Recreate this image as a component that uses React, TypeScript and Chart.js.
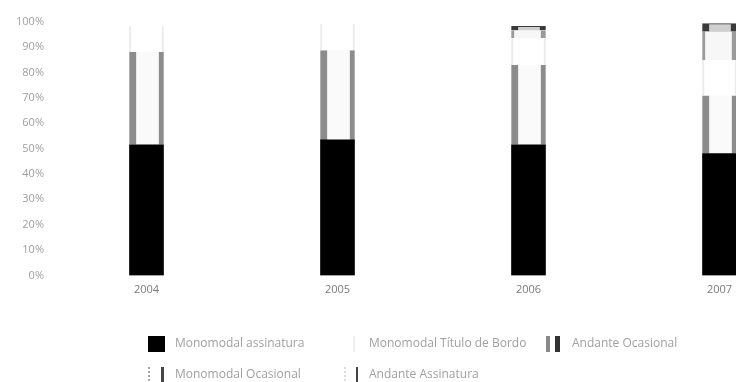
import React, { useEffect, useRef } from 'react';
import { Chart, registerables } from 'chart.js';

Chart.register(...registerables);

// ---- data ----
const categories = ['2004', '2005', '2006', '2007'];
const monomodalAssinatura = [51.5, 53.4, 51.5, 48.0];
const andanteOcasional = [36.5, 35.3, 31.4, 22.9];
const monomodalTituloBordo = [10.4, 10.5, 10.5, 14.0];
const monomodalOcasional = [0, 0, 3.1, 11.2];
const andanteAssinatura = [0, 0, 1.6, 3.1];
const yTickValues = [0, 10, 20, 30, 40, 50, 60, 70, 80, 90, 100];
const seriesLabels = [
  'Monomodal assinatura',
  'Andante Ocasional',
  'Monomodal Título de Bordo',
  'Monomodal Ocasional',
  'Andante Assinatura',
];
// dataset indices in the order the legend shows them
const legendOrder = [0, 2, 1, 3, 4];

const FONT = '"Open Sans", "Noto Sans", sans-serif';

type IconKind = 'solid' | 'double' | 'faint' | 'dashed' | 'line';
const iconKinds: IconKind[] = ['solid', 'double', 'faint', 'dashed', 'line'];

function drawIcon(ctx: CanvasRenderingContext2D, kind: IconKind, x: number, yc: number) {
  const top = yc - 8;
  const h = 16;
  ctx.save();
  if (kind === 'solid') {
    ctx.fillStyle = '#000';
    ctx.fillRect(x, top, 17, h);
  } else if (kind === 'double') {
    ctx.fillStyle = '#8a8a8a';
    ctx.fillRect(x + 1, top, 4, h);
    ctx.fillStyle = '#333';
    ctx.fillRect(x + 10, top, 5, h);
  } else if (kind === 'faint') {
    ctx.fillStyle = '#eeeeee';
    ctx.fillRect(x + 11, top, 2, h);
  } else if (kind === 'dashed') {
    ctx.fillStyle = '#a8a8a8';
    for (let yy = top; yy < top + h; yy += 4) ctx.fillRect(x, yy, 2, 2);
    ctx.fillStyle = '#444';
    ctx.fillRect(x + 13, top, 3, h);
  } else {
    ctx.fillStyle = '#dddddd';
    for (let yy = top; yy < top + h; yy += 4) ctx.fillRect(x + 2, yy, 2, 2);
    ctx.fillStyle = '#444';
    ctx.fillRect(x + 14, top, 2, h);
  }
  ctx.restore();
}

const gridLegend = {
  id: 'gridLegend',
  afterDraw(chart: any) {
    const ctx: CanvasRenderingContext2D = chart.ctx;
    const colX = [140, 334, 537];
    const rowY = [336, 367];
    ctx.save();
    ctx.font = `12px ${FONT}`;
    ctx.textBaseline = 'middle';
    ctx.textAlign = 'left';
    legendOrder.forEach((dsIndex, k) => {
      const x = colX[k % 3];
      const y = rowY[Math.floor(k / 3)];
      drawIcon(ctx, iconKinds[dsIndex], x, y);
      ctx.fillStyle = '#a0a0a0';
      ctx.fillText(chart.data.datasets[dsIndex].label, x + 27, y);
    });
    ctx.restore();
  },
};

export default function App() {
  const ref = useRef<HTMLCanvasElement | null>(null);

  useEffect(() => {
    document.body.style.overflow = 'hidden';
    document.body.style.marginRight = '0px';
    const canvas = ref.current;
    if (!canvas) return;
    const chart = new Chart(canvas, {
      type: 'bar',
      data: {
        labels: categories,
        datasets: [
          {
            label: seriesLabels[0],
            data: monomodalAssinatura,
            backgroundColor: '#000000',
            borderWidth: 0,
          },
          {
            label: seriesLabels[1],
            data: andanteOcasional,
            backgroundColor: '#fafafa',
            borderColor: '#8c8c8c',
            borderWidth: { left: 7, right: 5, top: 0, bottom: 0 },
            borderSkipped: false,
          },
          {
            label: seriesLabels[2],
            data: monomodalTituloBordo,
            backgroundColor: '#ffffff',
            borderColor: '#ebebeb',
            borderWidth: { left: 2, right: 2, top: 0, bottom: 0 },
            borderSkipped: false,
          },
          {
            label: seriesLabels[3],
            data: monomodalOcasional,
            backgroundColor: '#f7f7f7',
            borderColor: '#9a9a9a',
            borderWidth: { left: 3, right: 5, top: 0, bottom: 0 },
            borderSkipped: false,
          },
          {
            label: seriesLabels[4],
            data: andanteAssinatura,
            backgroundColor: '#cfcfcf',
            borderColor: '#3a3a3a',
            borderWidth: { left: 7, right: 6, top: 1, bottom: 0 },
            borderSkipped: false,
          },
        ],
      },
      options: {
        responsive: false,
        animation: false,
        layout: { padding: { top: 10, left: 0, right: 5, bottom: 76.5 } },
        datasets: { bar: { barThickness: 34 } },
        plugins: {
          legend: { display: false },
          tooltip: { enabled: false },
          title: { display: false },
        },
        scales: {
          x: {
            stacked: true,
            grid: { display: false, drawTicks: false },
            border: { display: false },
            ticks: {
              color: '#7a7a7a',
              font: { family: FONT, size: 11 },
              padding: 8,
            },
            afterFit: (scale: any) => {
              scale.height = 30;
            },
          },
          y: {
            stacked: true,
            min: 0,
            max: 100,
            grid: { display: false, drawTicks: false },
            border: { display: false },
            ticks: {
              color: '#a0a0a0',
              font: { family: FONT, size: 11 },
              padding: 7,
              callback: (v: any) => `${v}%`,
            },
            afterBuildTicks: (scale: any) => {
              scale.ticks = yTickValues.map((v) => ({ value: v }));
            },
            afterFit: (scale: any) => {
              scale.width = 43;
            },
          },
        },
      },
      plugins: [gridLegend],
    });
    return () => {
      chart.destroy();
    };
  }, []);

  return (
    <div style={{ width: 728, height: 374, overflow: 'hidden' }}>
      <canvas ref={ref} width={812} height={374} style={{ display: 'block', width: 812, height: 374 }} />
    </div>
  );
}
